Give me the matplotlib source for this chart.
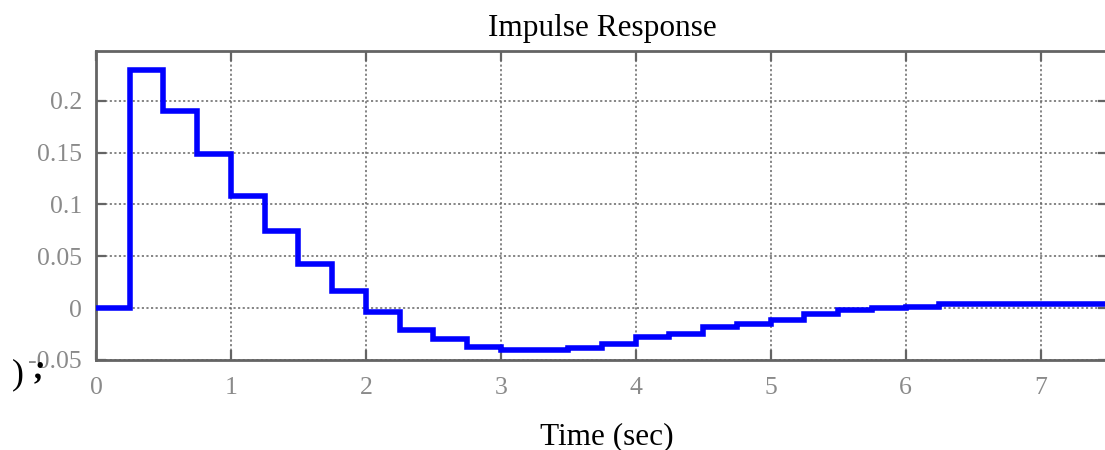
import matplotlib
matplotlib.use("Agg")
import matplotlib.pyplot as plt
import numpy as np

# Discrete impulse response, sample period 0.25 s (held between samples)
sample_period = 0.25
response = [
    0.000, 0.230, 0.190, 0.149, 0.108, 0.074, 0.043, 0.017,
    -0.004, -0.021, -0.030, -0.037, -0.040, -0.040, -0.038, -0.035,
    -0.028, -0.025, -0.018, -0.015, -0.011, -0.006, -0.002, 0.000,
    0.001, 0.004, 0.004, 0.004, 0.004, 0.004, 0.004,
]
x_ticks = [0, 1, 2, 3, 4, 5, 6, 7]
y_ticks = [-0.05, 0, 0.05, 0.1, 0.15, 0.2]
y_tick_labels = ["-0.05", "0", "0.05", "0.1", "0.15", "0.2"]

plt.rcParams["font.family"] = ["Liberation Serif", "DejaVu Serif"]

fig = plt.figure(figsize=(11.05, 4.5), dpi=100)
ax = fig.add_axes([96 / 1105, 90 / 450, 1012 / 1105, 309 / 450])

t = np.arange(len(response)) * sample_period
ax.plot(t, response, drawstyle="steps-post", color="#0000ff", lw=4.0,
        zorder=3, solid_joinstyle="miter")

ax.set_xlim(0, 7.5)
ax.set_ylim(-0.05, 0.248)
ax.set_xticks(x_ticks)
ax.set_yticks(y_ticks)
ax.set_yticklabels(y_tick_labels)

axis_grey = "#646464"
for side in ax.spines.values():
    side.set_color(axis_grey)
    side.set_linewidth(2.0)

ax.tick_params(axis="both", direction="in", length=7.5, width=1.6,
               color=axis_grey, labelcolor="#8a8a8a", labelsize=18.5,
               top=True, right=True)
ax.tick_params(axis="x", pad=12)
ax.tick_params(axis="y", pad=10)

ax.grid(True, color=axis_grey, linestyle=(0, (1.4, 1.6)), linewidth=1.1,
        zorder=1)
ax.set_axisbelow(True)

ax.set_title("Impulse Response", fontsize=22.5, color="black", pad=10.5)
ax.set_xlabel("Time (sec)", fontsize=22.5, color="black")
ax.xaxis.set_label_coords(0.505, -0.272)
ax.xaxis.label.set_va("baseline")

fig.text(12 / 1105, 1 - 383 / 450, ")", fontsize=26, color="black",
         ha="left", va="baseline")
fig.text(34 / 1105, 1 - 377 / 450, ";", fontsize=24, color="black",
         ha="left", va="baseline", fontweight="bold", style="italic")

fig.savefig("out.png", dpi=100)
